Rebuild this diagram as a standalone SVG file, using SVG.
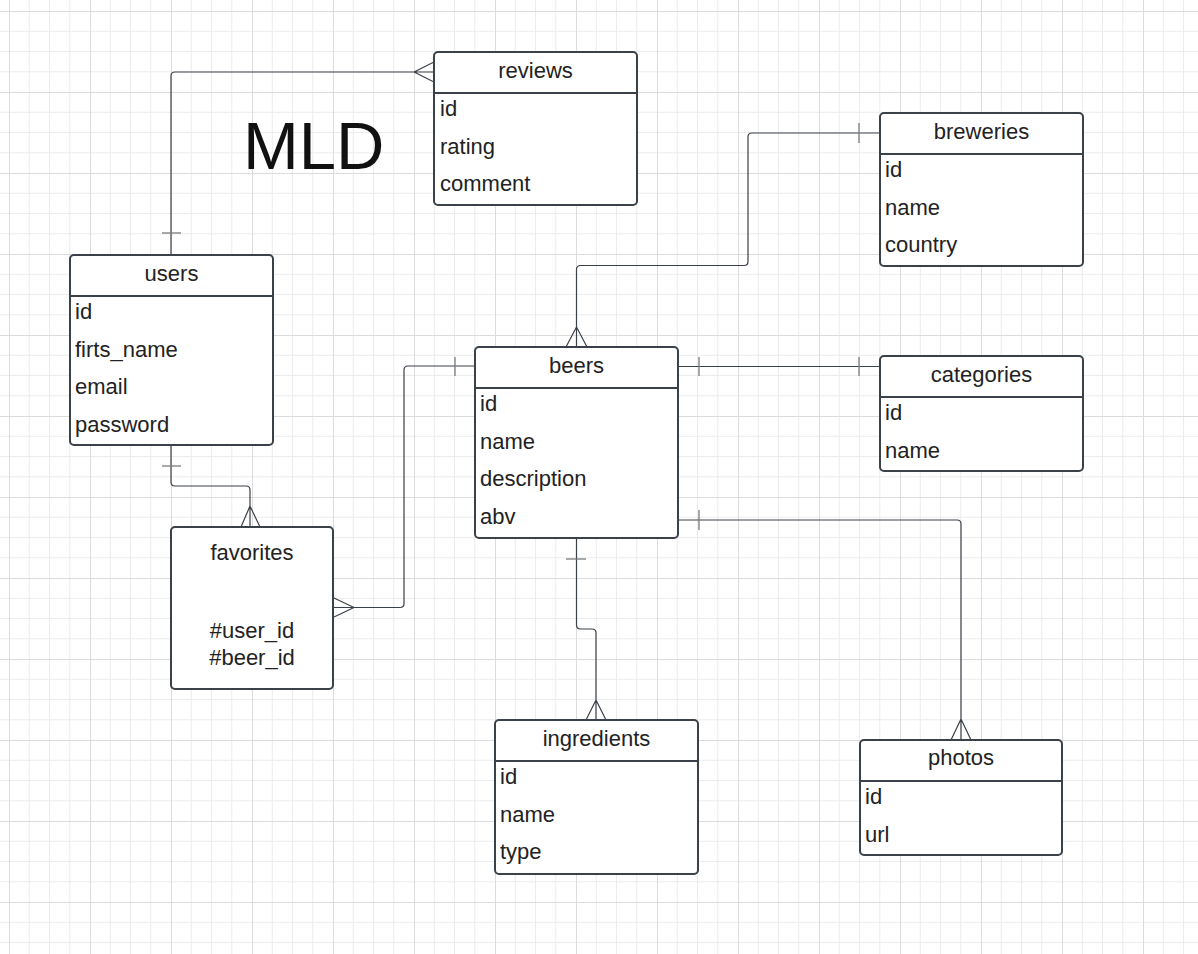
<svg xmlns="http://www.w3.org/2000/svg" width="1198" height="954" viewBox="0 0 1198 954">
<defs>
<pattern id="grid" x="9" y="11" width="81" height="81" patternUnits="userSpaceOnUse">
<path d="M20.25,0V81M40.5,0V81M60.75,0V81M0,20.25H81M0,40.5H81M0,60.75H81" stroke="#ececec" stroke-width="1" fill="none"/>
<path d="M0.5,0V81M0,0.5H81" stroke="#dcdcdc" stroke-width="1" fill="none"/>
</pattern>
<style>
.box{fill:#fff;stroke:#3b4149;stroke-width:2}
.hdr{stroke:#3b4149;stroke-width:2}
.t{font-family:"Liberation Sans",Arial,sans-serif;font-size:22px;fill:#222}
.c{text-anchor:middle}
.ln{fill:none;stroke:#3b4149;stroke-width:1.2}
.bar{fill:none;stroke:#7a7a7a;stroke-width:1.3}
</style>
</defs>
<rect width="1198" height="954" fill="#fff"/>
<rect width="1198" height="954" fill="url(#grid)"/>
<text x="243" y="169" font-family="'Liberation Sans',Arial,sans-serif" font-size="67" fill="#111">MLD</text>
<g id="connectors">
<path class="ln" d="M171,255V76Q171,72 175,72H434M414,72L434,62M414,72L434,82"/>
<path class="bar" d="M162,233H181"/>
<path class="ln" d="M171,445V482Q171,486 175,486H246Q250,486 250,490V527M250,506L241,527M250,506L260,527"/>
<path class="bar" d="M162,466H181"/>
<path class="ln" d="M333,607.5H400Q404,607.5 404,603.5V370Q404,366 408,366H475M354,607.5L334,598M354,607.5L334,617"/>
<path class="bar" d="M455,357V376"/>
<path class="ln" d="M576.5,347V269.5Q576.5,265.5 580.5,265.5H744Q748,265.5 748,261.5V137Q748,133 752,133H880M576.5,327L566,347M576.5,327L587,347"/>
<path class="bar" d="M859,123V143"/>
<path class="ln" d="M678,366.5H880"/>
<path class="bar" d="M699,357V376M859,357V376"/>
<path class="ln" d="M678,520H957Q961,520 961,524V740M961,719L951,740M961,719L971,740"/>
<path class="bar" d="M699,510V530"/>
<path class="ln" d="M576.5,538V625Q576.5,629 580.5,629H592Q596,629 596,633V720M596,700L586,720M596,700L606,720"/>
<path class="bar" d="M566,559H586"/>
</g>
<g id="reviews">
<rect class="box" x="434" y="52" width="203" height="153" rx="4"/>
<path class="hdr" d="M434,93H637"/>
<text class="t c" x="535.5" y="78">reviews</text>
<text class="t" x="440" y="116">id</text>
<text class="t" x="440" y="153.5">rating</text>
<text class="t" x="440" y="191">comment</text>
</g>
<g id="breweries">
<rect class="box" x="880" y="113" width="203" height="153" rx="4"/>
<path class="hdr" d="M880,154H1083"/>
<text class="t c" x="981.5" y="139">breweries</text>
<text class="t" x="885" y="177">id</text>
<text class="t" x="885" y="214.5">name</text>
<text class="t" x="885" y="252">country</text>
</g>
<g id="users">
<rect class="box" x="70" y="255" width="203" height="190" rx="4"/>
<path class="hdr" d="M70,296H273"/>
<text class="t c" x="171.5" y="281">users</text>
<text class="t" x="75" y="319">id</text>
<text class="t" x="75" y="356.5">firts_name</text>
<text class="t" x="75" y="394">email</text>
<text class="t" x="75" y="431.5">password</text>
</g>
<g id="beers">
<rect class="box" x="475" y="347" width="203" height="191" rx="4"/>
<path class="hdr" d="M475,388H678"/>
<text class="t c" x="576.5" y="373">beers</text>
<text class="t" x="480" y="411">id</text>
<text class="t" x="480" y="448.5">name</text>
<text class="t" x="480" y="486">description</text>
<text class="t" x="480" y="523.5">abv</text>
</g>
<g id="categories">
<rect class="box" x="880" y="356" width="203" height="115" rx="4"/>
<path class="hdr" d="M880,397H1083"/>
<text class="t c" x="981.5" y="382">categories</text>
<text class="t" x="885" y="420">id</text>
<text class="t" x="885" y="457.5">name</text>
</g>
<g id="favorites">
<rect class="box" x="171" y="527" width="162" height="162" rx="4"/>
<text class="t c" x="252" y="560">favorites</text>
<text class="t c" x="252" y="638">#user_id</text>
<text class="t c" x="252" y="665">#beer_id</text>
</g>
<g id="ingredients">
<rect class="box" x="495" y="720" width="203" height="154" rx="4"/>
<path class="hdr" d="M495,761H698"/>
<text class="t c" x="596.5" y="746">ingredients</text>
<text class="t" x="500" y="784">id</text>
<text class="t" x="500" y="821.5">name</text>
<text class="t" x="500" y="859">type</text>
</g>
<g id="photos">
<rect class="box" x="860" y="740" width="202" height="115" rx="4"/>
<path class="hdr" d="M860,781H1062"/>
<text class="t c" x="961" y="765">photos</text>
<text class="t" x="865" y="804">id</text>
<text class="t" x="865" y="841.5">url</text>
</g>
</svg>
